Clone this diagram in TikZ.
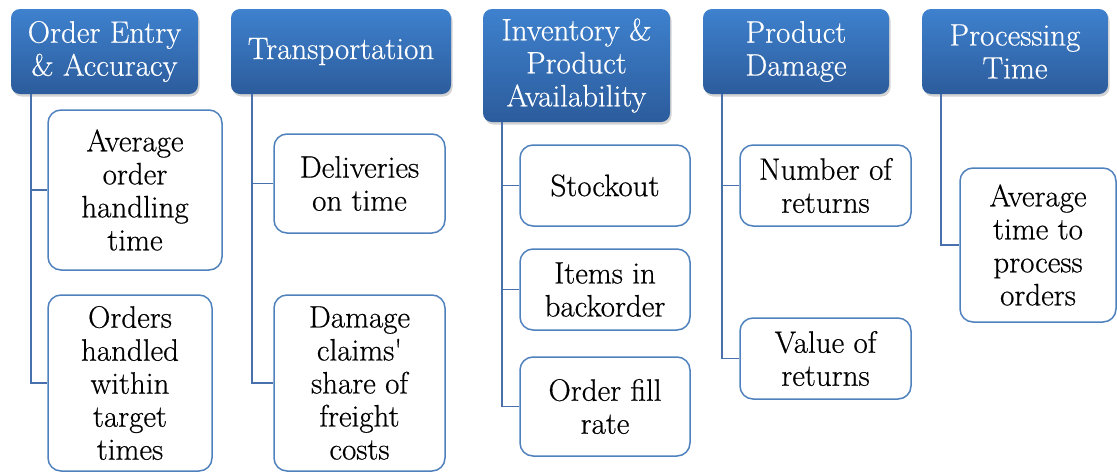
\documentclass[tikz,border=0pt]{standalone}
\usepackage{fontspec}
\newfontfamily\lmx{Latin Modern Roman}[FakeBold=0.5]
\usetikzlibrary{shadows}
\definecolor{hdtop}{RGB}{62,129,206}
\definecolor{hdbot}{RGB}{44,92,156}
\definecolor{bxline}{RGB}{79,129,189}
\definecolor{cnline}{RGB}{72,112,172}
\begin{document}
\begin{tikzpicture}[x=1pt,y=-1pt,
  txt/.style={font=\lmx\fontsize{31}{33}\selectfont, align=center, inner sep=0pt},
  head/.style={txt, text=white, rounded corners=9pt, top color=hdtop, bottom color=hdbot, draw=none,
    drop shadow={opacity=0.35, shadow xshift=1.5pt, shadow yshift=-2.5pt}},
  sub/.style={txt, text=black, fill=white, draw=bxline, line width=1.5pt, rounded corners=13pt},
  conn/.style={draw=cnline, line width=1.8pt}]
\useasboundingbox (0,0) rectangle (1117,472);
% headers
\node[head, minimum width=187pt, minimum height=85pt] (h1) at (104.5,51.5) {Order Entry\\\& Accuracy};
\node[head, minimum width=220pt, minimum height=85pt] (h2) at (341,51.5) {Transportation};
\node[head, minimum width=187pt, minimum height=113pt] (h3) at (576.5,65.5) {Inventory \&\\Product\\Availability};
\node[head, minimum width=186pt, minimum height=85pt] (h4) at (796,51.5) {Product\\Damage};
\node[head, minimum width=186pt, minimum height=85pt] (h5) at (1015,51.5) {Processing\\Time};
% sub boxes
\node[sub, minimum width=174pt, minimum height=160pt] (b11) at (135,190) {Average\\order\\handling\\time};
\node[sub, minimum width=164pt, minimum height=176pt] (b12) at (130,383) {Orders\\handled\\within\\target\\times};
\node[sub, minimum width=171pt, minimum height=99pt] (b21) at (359.5,183.5) {Deliveries\\on time};
\node[sub, minimum width=171pt, minimum height=176pt] (b22) at (359.5,383) {Damage\\claims\textquotesingle\\share of\\freight\\costs};
\node[sub, minimum width=170pt, minimum height=81pt] (b31) at (605,185.5) {Stockout};
\node[sub, minimum width=170pt, minimum height=81pt] (b32) at (605,289.5) {Items in\\backorder};
\node[sub, minimum width=170pt, minimum height=99pt] (b33) at (605,406.5) {Order fill\\rate};
\node[sub, minimum width=171pt, minimum height=81pt] (b41) at (825.5,185.5) {Number of\\returns};
\node[sub, minimum width=171pt, minimum height=81pt] (b42) at (825.5,358.5) {Value of\\returns};
\node[sub, minimum width=156pt, minimum height=154pt] (b51) at (1038,245) {Average\\time to\\process\\orders};
% connectors
\coordinate (c1) at ([xshift=20pt]h1.south west);
\coordinate (c2) at ([xshift=21pt]h2.south west);
\coordinate (c3) at ([xshift=19pt]h3.south west);
\coordinate (c4) at ([xshift=19pt]h4.south west);
\coordinate (c5) at ([xshift=19pt]h5.south west);
\draw[conn] (c1) |- (b12.west);
\draw[conn] (c1) |- (b11.west);
\draw[conn] (c2) |- (b22.west);
\draw[conn] (c2) |- (b21.west);
\draw[conn] (c3) |- (b33.west);
\draw[conn] (c3) |- (b32.west);
\draw[conn] (c3) |- (b31.west);
\draw[conn] (c4) |- (b42.west);
\draw[conn] (c4) |- (b41.west);
\draw[conn] (c5) |- (b51.west);
\end{tikzpicture}
\end{document}
